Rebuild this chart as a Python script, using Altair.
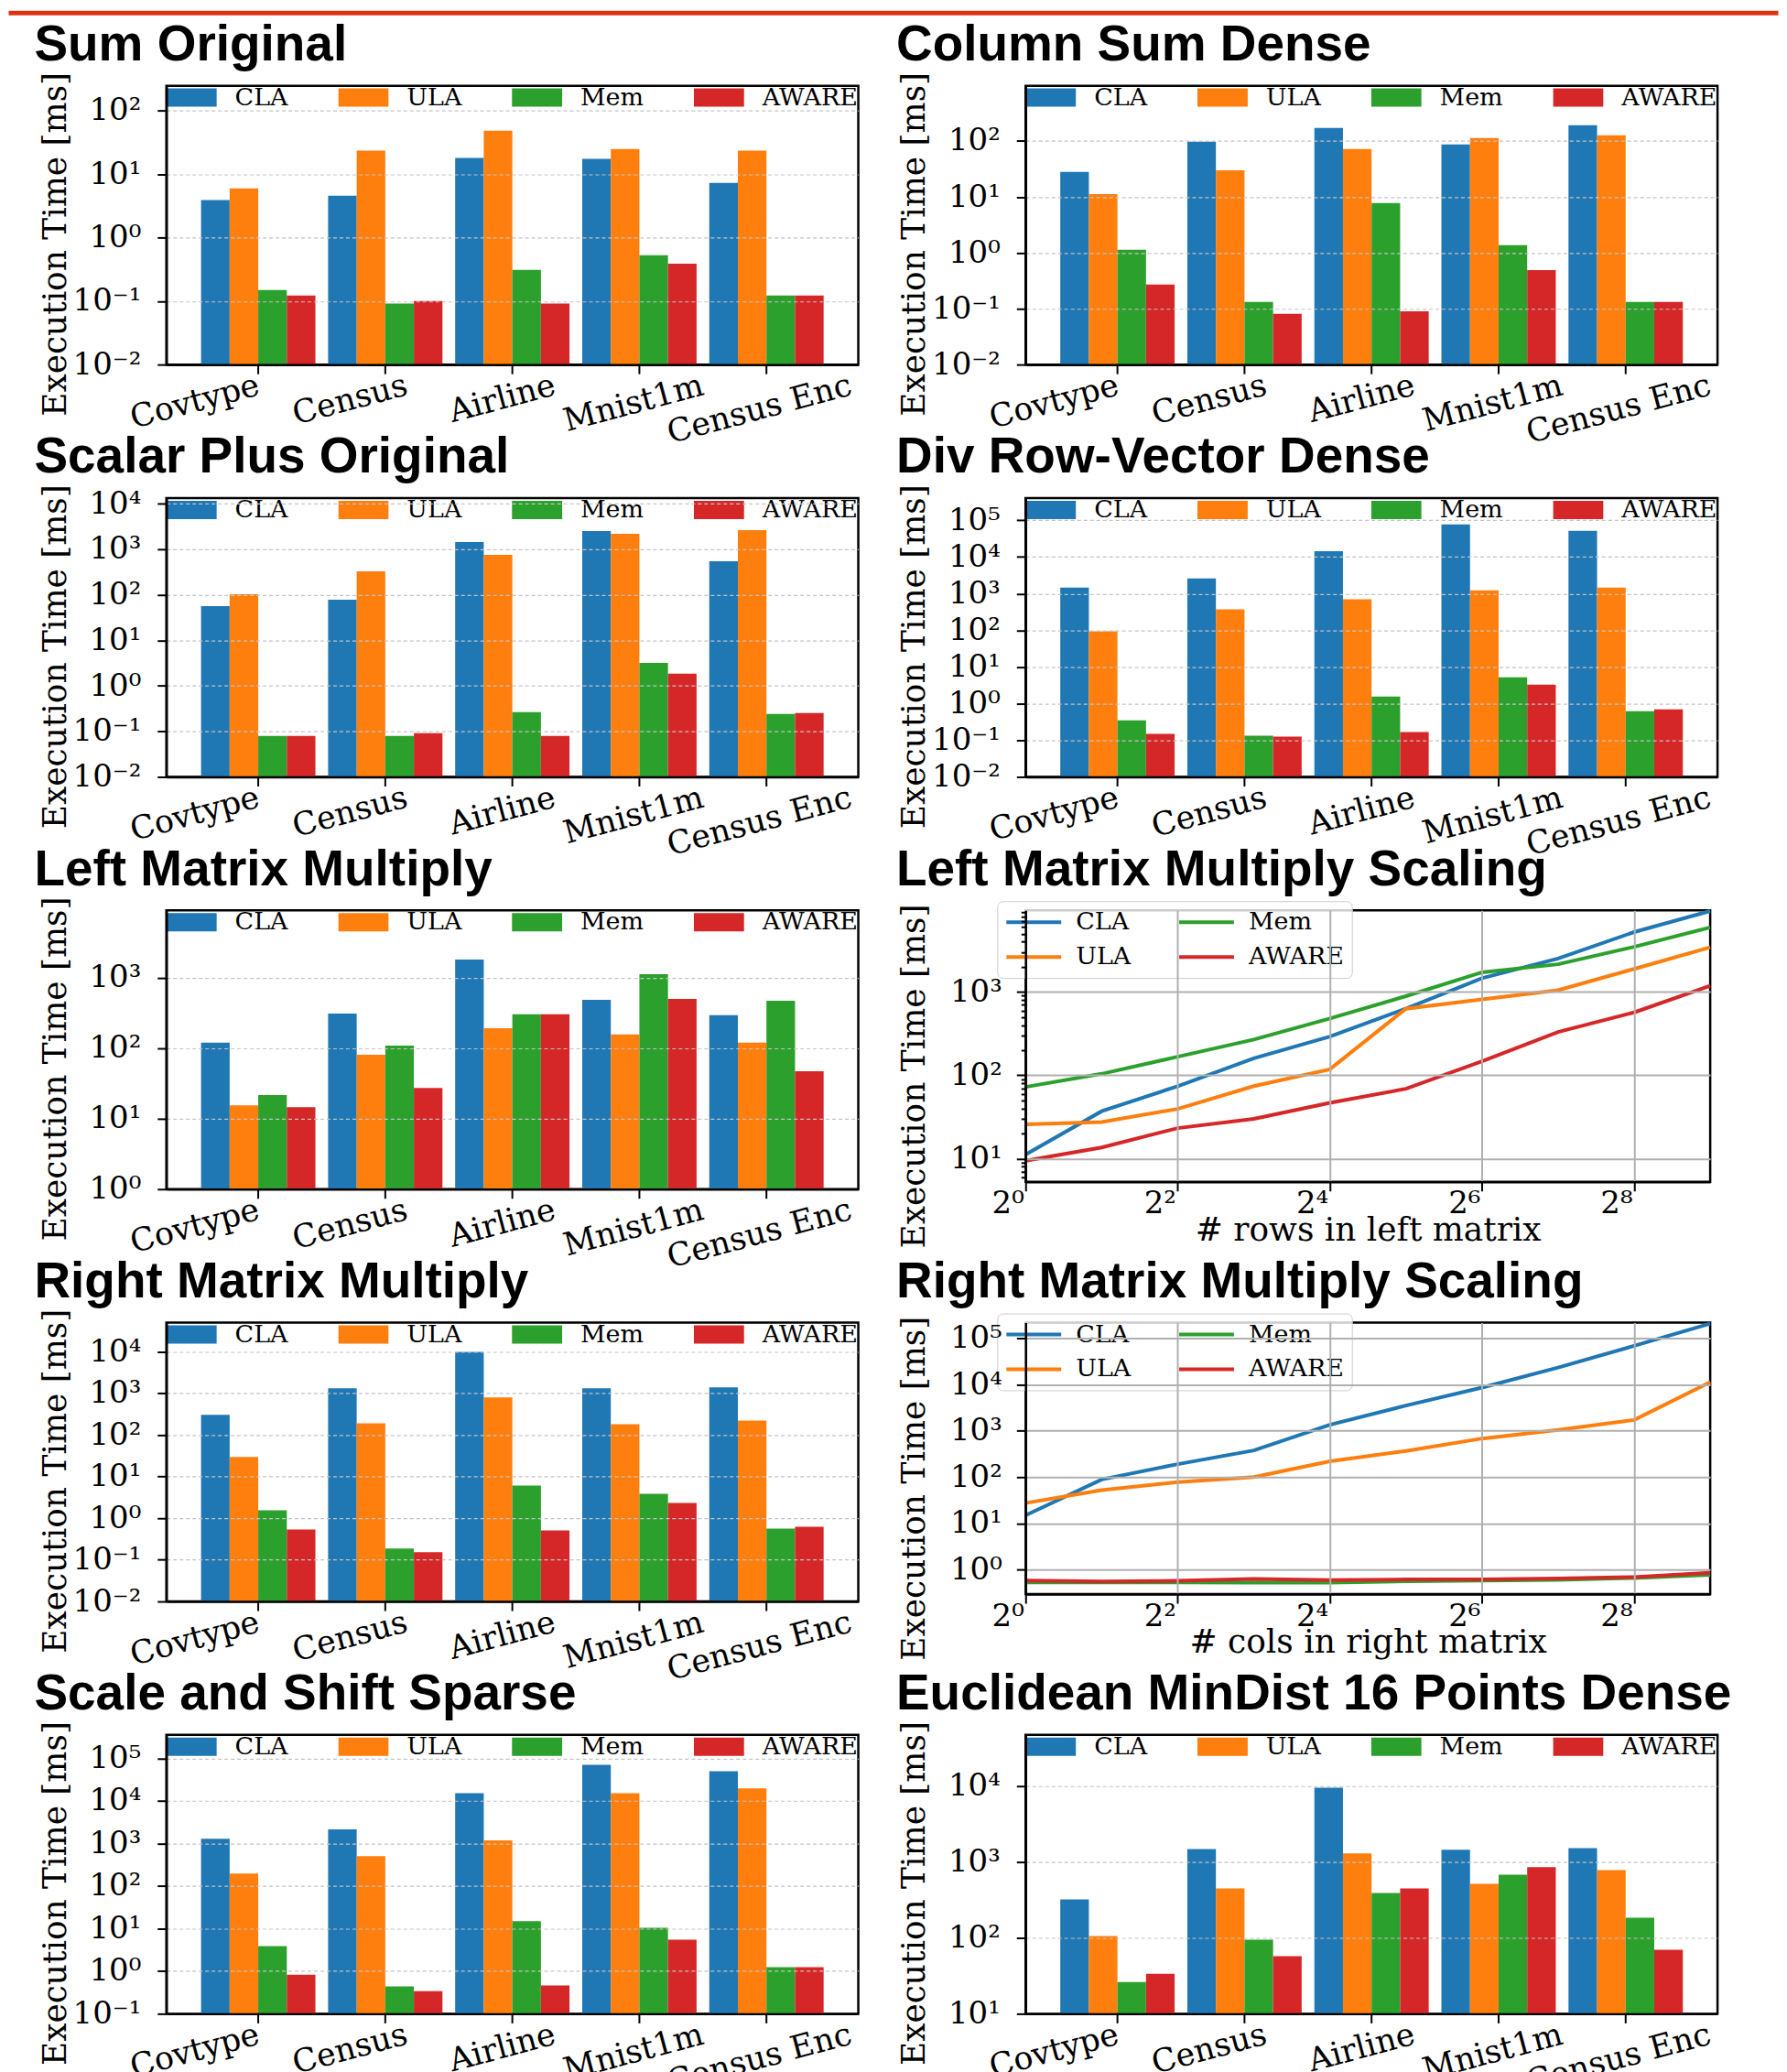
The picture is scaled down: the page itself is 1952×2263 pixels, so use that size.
import altair as alt
import pandas as pd

categories = ["Covtype", "Census", "Airline", "Mnist1m", "Census Enc"]
series = ["CLA", "ULA", "Mem", "AWARE"]
colors = ["#1f77b4", "#ff7f0e", "#2ca02c", "#d62728"]

sum_original = {
    "CLA": [3.9, 4.6, 18.0, 17.4, 7.3],
    "ULA": [6.0, 23.5, 48.7, 25.0, 23.5],
    "Mem": [0.15, 0.092, 0.31, 0.53, 0.123],
    "AWARE": [0.123, 0.1, 0.092, 0.39, 0.123],
}
column_sum_dense = {
    "CLA": [28.0, 97.5, 172.0, 87.0, 192.0],
    "ULA": [11.2, 30.0, 72.0, 113.0, 127.0],
    "Mem": [1.13, 0.132, 7.8, 1.37, 0.132],
    "AWARE": [0.27, 0.081, 0.09, 0.49, 0.132],
}
scalar_plus_original = {
    "CLA": [56.5, 78.0, 1450.0, 2525.0, 546.0],
    "ULA": [103.0, 328.0, 758.0, 2200.0, 2640.0],
    "Mem": [0.079, 0.079, 0.265, 3.2, 0.242],
    "AWARE": [0.079, 0.091, 0.079, 1.85, 0.254],
}
div_row_vector_dense = {
    "CLA": [1466.0, 2600.0, 14400.0, 76600.0, 51200.0],
    "ULA": [93.0, 370.0, 695.0, 1233.0, 1466.0],
    "Mem": [0.35, 0.133, 1.55, 5.2, 0.62],
    "AWARE": [0.15, 0.126, 0.166, 3.27, 0.695],
}
left_matrix_multiply = {
    "CLA": [120.0, 312.0, 1820.0, 488.0, 294.0],
    "ULA": [15.5, 81.0, 193.0, 157.0, 120.0],
    "Mem": [21.6, 109.0, 303.0, 1127.0, 473.0],
    "AWARE": [14.6, 27.4, 303.0, 502.0, 47.0],
}
right_matrix_multiply = {
    "CLA": [302.0, 1310.0, 9840.0, 1310.0, 1380.0],
    "ULA": [29.4, 190.0, 790.0, 180.0, 221.0],
    "Mem": [1.55, 0.187, 6.1, 3.86, 0.56],
    "AWARE": [0.536, 0.152, 0.51, 2.32, 0.62],
}
scale_shift_sparse = {
    "CLA": [1300.0, 2140.0, 15300.0, 70800.0, 50000.0],
    "ULA": [197.0, 505.0, 1180.0, 15300.0, 19700.0],
    "Mem": [3.87, 0.44, 14.9, 10.5, 1.24],
    "AWARE": [0.83, 0.34, 0.46, 5.47, 1.24],
}
euclidean_mindist = {
    "CLA": [321.0, 1490.0, 9550.0, 1450.0, 1530.0],
    "ULA": [106.0, 449.0, 1300.0, 516.0, 786.0],
    "Mem": [26.2, 94.6, 391.0, 683.0, 184.0],
    "AWARE": [33.7, 57.3, 449.0, 855.0, 69.7],
}

matrix_sizes = [1, 2, 4, 8, 16, 32, 64, 128, 256, 512]
left_scaling = {
    "CLA": [11.2, 37.0, 74.0, 160.0, 291.0, 630.0, 1460.0, 2520.0, 5230.0, 9350.0],
    "ULA": [25.7, 27.5, 39.5, 74.0, 118.0, 630.0, 815.0, 1050.0, 1890.0, 3430.0],
    "Mem": [72.5, 104.0, 167.0, 268.0, 480.0, 890.0, 1720.0, 2150.0, 3480.0, 5950.0],
    "AWARE": [9.4, 13.6, 23.2, 30.0, 46.7, 68.8, 147.0, 331.0, 568.0, 1186.0],
}
right_scaling = {
    "CLA": [15.0, 89.0, 191.0, 376.0, 1350.0, 3490.0, 8550.0, 23100.0, 67900.0, 205000.0],
    "ULA": [27.6, 52.6, 78.5, 100.0, 220.0, 367.0, 680.0, 1040.0, 1710.0, 11200.0],
    "Mem": [0.54, 0.54, 0.54, 0.53, 0.53, 0.57, 0.59, 0.61, 0.67, 0.78],
    "AWARE": [0.59, 0.56, 0.58, 0.64, 0.60, 0.62, 0.62, 0.65, 0.70, 0.87],
}

SUP = "['\u2070','\u00b9','\u00b2','\u00b3','\u2074','\u2075','\u2076','\u2077','\u2078','\u2079']"
EXP10 = "round(log(datum.value)/LN10)"
LABEL10 = "'10' + (" + EXP10 + " < 0 ? '\u207b' : '') + " + SUP + "[abs(" + EXP10 + ")]"
MAJOR10 = "abs(log(datum.value)/LN10 - " + EXP10 + ") < 0.001"
LABEL2 = "'2' + " + SUP + "[round(log(datum.value)/LN2)]"

SERIF = "DejaVu Serif"
PLOT_W = 757
BAR_H = 305
LINE_W = 749
LINE_H = 297
LEFT_DX = -144.5
RIGHT_DX = -141.5


def title_layer(text, dx):
    return alt.Chart(pd.DataFrame({"title": [text]})).mark_text(
        align="left", baseline="alphabetic", font="Liberation Sans",
        fontWeight="bold", fontSize=55, color="black"
    ).encode(text="title:N", x=alt.value(dx), y=alt.value(-27.5))


def y_title_axis(**kw):
    return dict(title="Execution Time [ms]", titleFontSize=36, titleAngle=270,
                titleX=-110.5, titleAlign="center", titleBaseline="alphabetic", **kw)


def bar_panel(title, values, lo, hi, dx, red=False):
    df = pd.DataFrame([
        {"dataset": c, "series": s, "time": v}
        for s in series for c, v in zip(categories, values[s])
    ])
    ticks = [10.0 ** e for e in range(-3, 7) if lo / 1.001 <= 10.0 ** e <= hi * 1.001]
    bars = alt.Chart(df).mark_bar().encode(
        x=alt.X("dataset:N", sort=categories, title=None,
                scale=alt.Scale(paddingInner=0.1, paddingOuter=0.273),
                axis=alt.Axis(labelAngle=-15, labelAlign="right", labelBaseline="top",
                              labelFontSize=35, labelOffset={"expr": "datum.index * 92 - 4"},
                              labelPadding=-5, labelLimit=400, tickSize=10, grid=False,
                              zindex=1)),
        xOffset=alt.XOffset("series:N", sort=series,
                            scale=alt.Scale(paddingInner=0, paddingOuter=0)),
        y=alt.Y("time:Q", scale=alt.Scale(type="log", domain=[lo, hi], nice=False),
                axis=alt.Axis(values=ticks, labelExpr=LABEL10, labelFontSize=34,
                              labelPadding=18, tickSize=10, labelOverlap=False,
                              grid=True, gridDash=[4, 3], gridColor="#c4c4c4", gridWidth=1.2,
                              zindex=1, **y_title_axis(titleY=173))),
        y2=alt.datum(lo),
        color=alt.Color("series:N", sort=series,
                        scale=alt.Scale(domain=series, range=colors),
                        legend=alt.Legend(title=None, orient="none", legendX=0, legendY=-2,
                                          direction="horizontal", columns=4,
                                          symbolType="M-1,-0.364L1,-0.364L1,0.364L-1,0.364Z",
                                          symbolSize=3025, symbolStrokeWidth=0,
                                          labelOffset=20, labelFontSize=27, clipHeight=30,
                                          columnPadding=54, gridAlign="each", padding=0,
                                          labelLimit=400)),
    )
    layers = [bars, title_layer(title, dx)]
    if red:
        band = alt.Chart(pd.DataFrame({"band": ["top"]})).mark_rect(color="#dc3412").encode(
            x=alt.value(-172.5), x2=alt.value(1763.5), y=alt.value(-82), y2=alt.value(-77))
        layers.append(band)
    return alt.layer(*layers).properties(width=PLOT_W, height=BAR_H)


def line_panel(title, values, lo, hi, xtitle, minor, dx):
    df = pd.DataFrame([
        {"size": n, "series": s, "time": v}
        for s in series for n, v in zip(matrix_sizes, values[s])
    ])
    if minor:
        yvals = [m * 10.0 ** e for e in range(-2, 7) for m in range(1, 10)
                 if lo <= m * 10.0 ** e <= hi]
    else:
        yvals = [10.0 ** e for e in range(-2, 7) if lo <= 10.0 ** e <= hi]
    lines = alt.Chart(df).mark_line(strokeWidth=4).encode(
        x=alt.X("size:Q", scale=alt.Scale(type="log", base=2, domain=[1, 512], nice=False),
                axis=alt.Axis(values=[1, 4, 16, 64, 256], labelExpr=LABEL2, labelFontSize=34,
                              labelAlign="right", labelBaseline="top", labelOffset=-2,
                              labelPadding=-3, labelFlush=False, labelOverlap=False,
                              tickSize=10, grid=True, gridColor="#b0b0b0", gridWidth=2,
                              title=xtitle, titleFontSize=36, titleY=64,
                              titleBaseline="alphabetic", zindex=1)),
        y=alt.Y("time:Q", scale=alt.Scale(type="log", domain=[lo, hi], nice=False),
                axis=alt.Axis(values=yvals,
                              labelExpr="(" + MAJOR10 + ") ? " + LABEL10 + " : ''",
                              labelFontSize=34, labelPadding=16, labelOverlap=False,
                              tickSize={"condition": {"test": MAJOR10, "value": 10}, "value": 5},
                              gridOpacity={"condition": {"test": MAJOR10, "value": 1}, "value": 0},
                              grid=True, gridColor="#b0b0b0", gridWidth=2, zindex=1,
                              **y_title_axis(titleY=181))),
        color=alt.Color("series:N", sort=series,
                        scale=alt.Scale(domain=series, range=colors),
                        legend=alt.Legend(title=None, orient="none", legendX=-31, legendY=-10,
                                          columns=2, symbolType="stroke", symbolSize=3600,
                                          symbolStrokeWidth=4, labelOffset=14, labelFontSize=27,
                                          clipHeight=30, rowPadding=8, columnPadding=50,
                                          gridAlign="each", padding=8,
                                          fillColor="rgba(255,255,255,0.8)",
                                          strokeColor="#cccccc", cornerRadius=6,
                                          labelLimit=400)),
    )
    return alt.layer(lines, title_layer(title, dx)).properties(width=LINE_W, height=LINE_H)


panels = [
    bar_panel("Sum Original", sum_original, 0.01, 248, LEFT_DX, red=True),
    bar_panel("Column Sum Dense", column_sum_dense, 0.01, 975, RIGHT_DX),
    bar_panel("Scalar Plus Original", scalar_plus_original, 0.01, 13400, LEFT_DX),
    bar_panel("Div Row-Vector Dense", div_row_vector_dense, 0.01, 404000, RIGHT_DX),
    bar_panel("Left Matrix Multiply", left_matrix_multiply, 1, 9080, LEFT_DX),
    line_panel("Left Matrix Multiply Scaling", left_scaling, 5.26, 9540,
               "# rows in left matrix", True, RIGHT_DX),
    bar_panel("Right Matrix Multiply", right_matrix_multiply, 0.01, 49700, LEFT_DX),
    line_panel("Right Matrix Multiply Scaling", right_scaling, 0.30, 215000,
               "# cols in right matrix", False, RIGHT_DX),
    bar_panel("Scale and Shift Sparse", scale_shift_sparse, 0.1, 356000, LEFT_DX),
    bar_panel("Euclidean MinDist 16 Points Dense", euclidean_mindist, 10, 47500, RIGHT_DX),
]

chart = alt.concat(
    *panels, columns=2, spacing={"row": 146, "column": 183}, bounds="flush"
).resolve_scale(
    color="independent", xOffset="independent", x="independent", y="independent"
).resolve_legend(
    color="independent"
).properties(
    padding=0
).configure_view(
    stroke="black", strokeWidth=2.5
).configure_axis(
    labelFont=SERIF, titleFont=SERIF, labelColor="black", titleColor="black",
    titleFontWeight="normal", domainColor="black", domainWidth=2.5,
    tickColor="black", tickWidth=2
).configure_legend(
    labelFont=SERIF, labelColor="black"
)

chart.save("out.html", embed_options={"renderer": "svg", "actions": False})
